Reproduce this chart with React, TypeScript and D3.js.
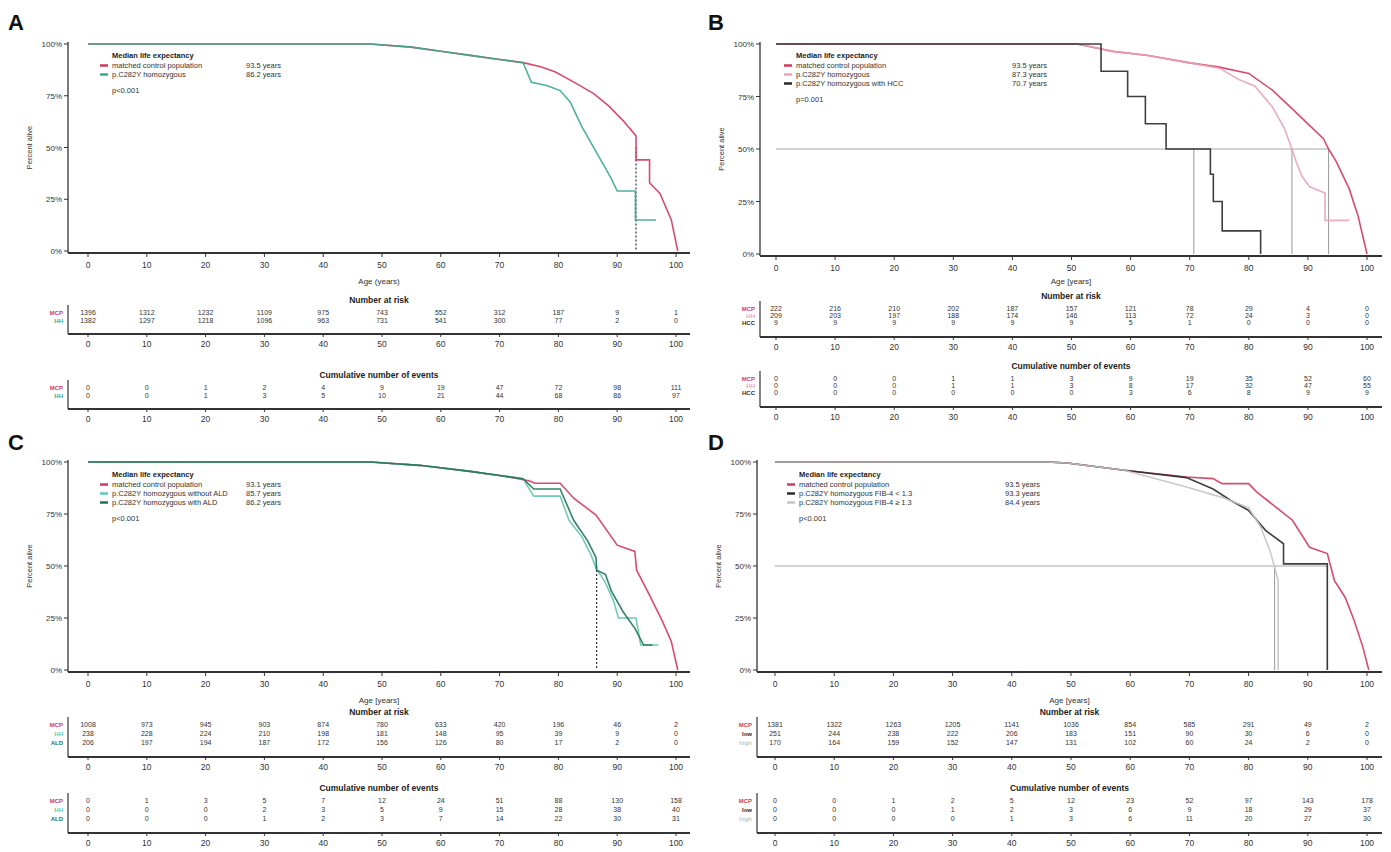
import React from "react";
import * as d3 from "d3";

type Pt = [number, number];

// ---------- shared ticks ----------
const AGE_TICKS = [0, 10, 20, 30, 40, 50, 60, 70, 80, 90, 100];
const SURV_TICKS = [0, 0.25, 0.5, 0.75, 1];
const SURV_TICK_LABELS = ["0%", "25%", "50%", "75%", "100%"];

// ---------- Panel A ----------
const A_NAMES = ["matched control population", "p.C282Y homozygous"];
const A_MEDIANS = ["93.5 years", "86.2 years"];
const A_ROW_LABELS = ["MCP", "HH"];
const A_CTRL: Pt[] = [[0, 1], [48, 1], [55, 0.985], [60, 0.965], [65, 0.945], [70, 0.925], [74, 0.91], [77, 0.89], [79.5, 0.865], [83, 0.81], [86, 0.76], [88.6, 0.7], [91, 0.63], [93.2, 0.556], [93.2, 0.44], [95.5, 0.44], [95.5, 0.33], [97.3, 0.277], [99.2, 0.15], [100.3, 0]];
const A_HOM: Pt[] = [[0, 1], [48, 1], [55, 0.985], [60, 0.965], [65, 0.945], [70, 0.925], [74, 0.91], [75.4, 0.815], [78, 0.8], [80.3, 0.775], [82, 0.72], [84, 0.6], [87, 0.45], [89, 0.35], [90, 0.29], [93.1, 0.29], [93.1, 0.15], [96.6, 0.15]];
const A_MEDIAN_AGES = [93.2];
const A_AT_RISK = [[1396, 1312, 1232, 1109, 975, 743, 552, 312, 187, 9, 1], [1382, 1297, 1218, 1096, 963, 731, 541, 300, 77, 2, 0]];
const A_EVENTS = [[0, 0, 1, 2, 4, 9, 19, 47, 72, 98, 111], [0, 0, 1, 3, 5, 10, 21, 44, 68, 86, 97]];
const A_P = "p<0.001";

// ---------- Panel B ----------
const B_NAMES = ["matched control population", "p.C282Y homozygous", "p.C282Y homozygous with HCC"];
const B_MEDIANS = ["93.5 years", "87.3 years", "70.7 years"];
const B_ROW_LABELS = ["MCP", "HH", "HCC"];
const B_CTRL: Pt[] = [[0, 1], [51, 1], [57, 0.965], [63, 0.945], [70, 0.91], [75, 0.89], [80, 0.86], [84, 0.78], [87.4, 0.69], [90, 0.62], [92.6, 0.55], [93.5, 0.5], [94.8, 0.44], [97, 0.31], [98.5, 0.18], [100, 0]];
const B_HOM: Pt[] = [[0, 1], [51, 1], [57, 0.965], [63, 0.945], [70, 0.91], [75, 0.885], [78.4, 0.83], [81, 0.8], [84, 0.7], [86, 0.6], [87.3, 0.5], [88, 0.44], [89, 0.37], [90.3, 0.32], [92.9, 0.29], [92.9, 0.16], [97, 0.16]];
const B_HCC: Pt[] = [[0, 1], [55, 1], [55, 0.87], [59.5, 0.87], [59.5, 0.75], [62.5, 0.75], [62.5, 0.62], [66, 0.62], [66, 0.5], [73.5, 0.5], [73.5, 0.38], [74, 0.38], [74, 0.25], [75.5, 0.25], [75.5, 0.11], [82, 0.11], [82, 0]];
const B_MEDIAN_AGES = [70.7, 87.3, 93.5];
const B_AT_RISK = [[222, 216, 210, 202, 187, 157, 121, 78, 29, 4, 0], [209, 203, 197, 188, 174, 146, 113, 72, 24, 3, 0], [9, 9, 9, 9, 9, 9, 5, 1, 0, 0, 0]];
const B_EVENTS = [[0, 0, 0, 1, 1, 3, 9, 19, 35, 52, 60], [0, 0, 0, 1, 1, 3, 8, 17, 32, 47, 55], [0, 0, 0, 0, 0, 0, 3, 6, 8, 9, 9]];
const B_P = "p=0.001";

// ---------- Panel C ----------
const C_NAMES = ["matched control population", "p.C282Y homozygous without ALD", "p.C282Y homozygous with ALD"];
const C_MEDIANS = ["93.1 years", "85.7 years", "86.2 years"];
const C_ROW_LABELS = ["MCP", "HH", "ALD"];
const C_CTRL: Pt[] = [[0, 1], [48, 1], [56.4, 0.984], [65, 0.955], [70, 0.935], [75, 0.91], [76, 0.898], [80.3, 0.898], [82.6, 0.826], [86.4, 0.745], [90, 0.6], [93, 0.57], [93.3, 0.48], [95.5, 0.36], [97.7, 0.234], [99.2, 0.137], [100.3, 0]];
const C_NOALD: Pt[] = [[0, 1], [48, 1], [56.4, 0.984], [65, 0.955], [70, 0.935], [74, 0.92], [75.8, 0.836], [80.3, 0.836], [81.8, 0.72], [84, 0.64], [85.6, 0.55], [86.4, 0.49], [88, 0.42], [89.4, 0.33], [90.2, 0.25], [93.2, 0.25], [94, 0.12], [97, 0.12]];
const C_ALD: Pt[] = [[0, 1], [48, 1], [56.4, 0.984], [65, 0.955], [70, 0.935], [74, 0.92], [75.8, 0.87], [80.3, 0.87], [82.6, 0.72], [85, 0.62], [86.4, 0.54], [86.5, 0.48], [88, 0.46], [89, 0.38], [91, 0.28], [93, 0.2], [94.5, 0.12], [96, 0.12]];
const C_MEDIAN_AGES = [86.5];
const C_AT_RISK = [[1008, 973, 945, 903, 874, 780, 633, 420, 196, 46, 2], [238, 228, 224, 210, 198, 181, 148, 95, 39, 9, 0], [206, 197, 194, 187, 172, 156, 126, 80, 17, 2, 0]];
const C_EVENTS = [[0, 1, 3, 5, 7, 12, 24, 51, 88, 130, 158], [0, 0, 0, 2, 3, 5, 9, 15, 28, 38, 40], [0, 0, 0, 1, 2, 3, 7, 14, 22, 30, 31]];
const C_P = "p<0.001";

// ---------- Panel D ----------
const D_NAMES = ["matched control population", "p.C282Y homozygous FIB-4 < 1.3", "p.C282Y homozygous FIB-4 ≥ 1.3"];
const D_MEDIANS = ["93.5 years", "93.3 years", "84.4 years"];
const D_ROW_LABELS = ["MCP", "low", "high"];
const D_CTRL: Pt[] = [[0, 1], [46, 1], [49.4, 0.995], [59, 0.96], [69.5, 0.928], [74, 0.92], [75.5, 0.896], [80, 0.896], [81.4, 0.855], [87.4, 0.72], [90.3, 0.59], [93.3, 0.56], [94.5, 0.43], [96.3, 0.35], [97.8, 0.24], [99.3, 0.11], [100.3, 0]];
const D_LOW: Pt[] = [[0, 1], [46, 1], [49.4, 0.995], [59, 0.96], [69.5, 0.925], [74, 0.87], [77, 0.815], [80, 0.767], [82.9, 0.67], [85.9, 0.607], [85.9, 0.51], [93.3, 0.51], [93.3, 0]];
const D_HIGH: Pt[] = [[0, 1], [46, 1], [49.4, 0.995], [59, 0.96], [69.5, 0.88], [75.5, 0.83], [80, 0.78], [82, 0.69], [83.6, 0.575], [84.4, 0.494], [85, 0.43], [85, 0]];
const D_MEDIAN_AGES = [84.4, 93.3];
const D_AT_RISK = [[1381, 1322, 1263, 1205, 1141, 1036, 854, 585, 291, 49, 2], [251, 244, 238, 222, 206, 183, 151, 90, 30, 6, 0], [170, 164, 159, 152, 147, 131, 102, 60, 24, 2, 0]];
const D_EVENTS = [[0, 0, 1, 2, 5, 12, 23, 52, 97, 143, 178], [0, 0, 0, 1, 2, 3, 6, 9, 18, 29, 37], [0, 0, 0, 0, 1, 3, 6, 11, 20, 27, 30]];
const D_P = "p<0.001";

const FONT = "'Liberation Sans', Arial, sans-serif";
const RED = "#d23a5c";
const TEAL = "#3aa98e";
const TEAL_L = "#63c7ad";
const GREEN_D = "#1e7459";
const PINK = "#eba2b6";
const BLACK = "#2a2a2a";
const GREY = "#c4c4c4";

interface Series { data: Pt[]; color: string; }
interface Geo {
  letter: string; lx: number; ly: number;
  left: number; right: number; x0: number; x100: number;
  top: number; bottom: number; axisY: number;
  xLabel: string; xLabelY: number;
  legX: number; legY: number; valX: number;
  risk: { title: number; rows: number[]; axis: number };
  events: { title: number; rows: number[]; axis: number };
}

interface PanelProps {
  geo: Geo; series: Series[]; names: string[]; medians: string[]; rowLabels: string[];
  atRisk: number[][]; events: number[][]; p: string;
  medianAges: number[]; medianStyle: "dotted" | "guide";
}

function Table({ geo, x, heading, rows, axis, values, labels, colors }: any) {
  return (
    <g>
      <text x={(geo.left + geo.right) / 2} y={rows[0] - 12} textAnchor="middle" fontSize={8.5} fontWeight="bold" fill="#222">{heading}</text>
      <line x1={geo.left} x2={geo.left} y1={rows[0] - 10} y2={axis} stroke="#333" strokeWidth={1.2} />
      <line x1={geo.left} x2={geo.right} y1={axis} y2={axis} stroke="#333" strokeWidth={2} />
      {AGE_TICKS.map((t) => (
        <g key={t}>
          <line x1={x(t)} x2={x(t)} y1={axis} y2={axis + 3} stroke="#333" />
          <text x={x(t)} y={axis + 13} textAnchor="middle" fontSize={8.5} fill="#333">{t}</text>
        </g>
      ))}
      {values.map((row: number[], i: number) => (
        <g key={i}>
          <text x={geo.left - 5} y={rows[i]} textAnchor="end" fontSize={6} fontWeight="bold" fill={colors[i]}>{labels[i]}</text>
          {row.map((v, j) => (
            <text key={j} x={x(AGE_TICKS[j])} y={rows[i]} textAnchor="middle" fontSize={7} fill="#333">{v}</text>
          ))}
        </g>
      ))}
    </g>
  );
}

function Panel({ geo, series, names, medians, rowLabels, atRisk, events, p, medianAges, medianStyle }: PanelProps) {
  const x = d3.scaleLinear().domain([0, 100]).range([geo.x0, geo.x100]);
  const y = d3.scaleLinear().domain([0, 1]).range([geo.bottom, geo.top]);
  const line = d3.line<Pt>().x((d) => x(d[0])).y((d) => y(d[1]));
  const colors = series.map((s) => s.color);
  const midY = (geo.top + geo.bottom) / 2;
  const maxMed = d3.max(medianAges) ?? 0;
  return (
    <g fontFamily={FONT}>
      <text x={geo.lx} y={geo.ly} fontSize={22} fontWeight="bold" fill="#111">{geo.letter}</text>
      {/* y axis */}
      <line x1={geo.left} x2={geo.left} y1={geo.top - 2} y2={geo.axisY} stroke="#333" strokeWidth={1.3} />
      {SURV_TICKS.map((t, i) => (
        <g key={t}>
          <line x1={geo.left - 4} x2={geo.left} y1={y(t)} y2={y(t)} stroke="#333" />
          <text x={geo.left - 6} y={y(t) + 3} textAnchor="end" fontSize={8} fill="#333">{SURV_TICK_LABELS[i]}</text>
        </g>
      ))}
      <text transform={`translate(${geo.left - 36},${midY}) rotate(-90)`} textAnchor="middle" fontSize={7.5} fill="#333">Percent alive</text>
      {/* x axis */}
      <line x1={geo.left} x2={geo.right} y1={geo.axisY} y2={geo.axisY} stroke="#333" strokeWidth={2} />
      {AGE_TICKS.map((t) => (
        <g key={t}>
          <line x1={x(t)} x2={x(t)} y1={geo.axisY} y2={geo.axisY + 4} stroke="#333" />
          <text x={x(t)} y={geo.axisY + 15} textAnchor="middle" fontSize={8.5} fill="#333">{t}</text>
        </g>
      ))}
      <text x={(geo.left + geo.right) / 2} y={geo.xLabelY} textAnchor="middle" fontSize={8} fill="#333">{geo.xLabel}</text>
      {/* median guides */}
      {medianStyle === "guide" && (
        <line x1={x(0)} x2={x(maxMed)} y1={y(0.5)} y2={y(0.5)} stroke="#a8a8a8" strokeWidth={1} />
      )}
      {medianAges.map((m, i) => (
        medianStyle === "guide" ? (
          <line key={i} x1={x(m)} x2={x(m)} y1={y(0.5)} y2={y(0)} stroke="#999" strokeWidth={1} />
        ) : (
          <line key={i} x1={x(m)} x2={x(m)} y1={y(0.5)} y2={y(0)} stroke="#333" strokeWidth={1.2} strokeDasharray="2,2" />
        )
      ))}
      {/* curves */}
      {series.map((s, i) => (
        <path key={i} d={line(s.data) ?? ""} fill="none" stroke={s.color} strokeWidth={1.6} strokeOpacity={0.9} />
      ))}
      {/* legend */}
      <text x={geo.legX + 12} y={geo.legY} fontSize={7.5} fontWeight="bold" fill="#222">Median life expectancy</text>
      {names.map((n, i) => (
        <g key={i}>
          <line x1={geo.legX} x2={geo.legX + 8} y1={geo.legY + 10 + i * 9 - 2.5} y2={geo.legY + 10 + i * 9 - 2.5} stroke={colors[i]} strokeWidth={2.5} />
          <text x={geo.legX + 12} y={geo.legY + 10 + i * 9} fontSize={7.5} fill="#333">{n}</text>
          <text x={geo.valX} y={geo.legY + 10 + i * 9} fontSize={7.5} fill="#333">{medians[i]}</text>
        </g>
      ))}
      <text x={geo.legX + 12} y={geo.legY + 13 + names.length * 9 + 4} fontSize={7.5} fill="#333">{p}</text>
      <Table geo={geo} x={x} heading="Number at risk" rows={geo.risk.rows} axis={geo.risk.axis} values={atRisk} labels={rowLabels} colors={colors} />
      <Table geo={geo} x={x} heading="Cumulative number of events" rows={geo.events.rows} axis={geo.events.axis} values={events} labels={rowLabels} colors={colors} />
    </g>
  );
}

const GEO_A: Geo = {
  letter: "A", lx: 8, ly: 30, left: 68, right: 690, x0: 88, x100: 676, top: 44, bottom: 251, axisY: 253,
  xLabel: "Age (years)", xLabelY: 284, legX: 100, legY: 58, valX: 246,
  risk: { title: 302, rows: [315, 323], axis: 334 }, events: { title: 378, rows: [390, 398], axis: 409 },
};
const GEO_B: Geo = {
  letter: "B", lx: 708, ly: 30, left: 760, right: 1382, x0: 776, x100: 1367, top: 44, bottom: 254, axisY: 256,
  xLabel: "Age [years]", xLabelY: 284, legX: 784, legY: 58, valX: 1012,
  risk: { title: 298, rows: [311, 318, 325], axis: 337 }, events: { title: 369, rows: [381, 388, 395], axis: 407 },
};
const GEO_C: Geo = {
  letter: "C", lx: 8, ly: 450, left: 68, right: 690, x0: 88, x100: 676, top: 462, bottom: 670, axisY: 672,
  xLabel: "Age [years]", xLabelY: 703, legX: 100, legY: 477, valX: 246,
  risk: { title: 714, rows: [727, 736, 745], axis: 757 }, events: { title: 790, rows: [803, 812, 821], axis: 833 },
};
const GEO_D: Geo = {
  letter: "D", lx: 708, ly: 450, left: 757, right: 1382, x0: 775, x100: 1367, top: 462, bottom: 670, axisY: 672,
  xLabel: "Age [years]", xLabelY: 703, legX: 787, legY: 477, valX: 1005,
  risk: { title: 714, rows: [727, 736, 745], axis: 757 }, events: { title: 790, rows: [803, 812, 821], axis: 833 },
};

export default function App() {
  return (
    <svg width={1391} height={852} style={{ position: "absolute", left: 0, top: 0, background: "#fff" }}>
      <rect width={1391} height={852} fill="#fff" />
      <Panel geo={GEO_A} series={[{ data: A_CTRL, color: RED }, { data: A_HOM, color: TEAL }]} names={A_NAMES} medians={A_MEDIANS} rowLabels={A_ROW_LABELS} atRisk={A_AT_RISK} events={A_EVENTS} p={A_P} medianAges={A_MEDIAN_AGES} medianStyle="dotted" />
      <Panel geo={GEO_B} series={[{ data: B_CTRL, color: RED }, { data: B_HOM, color: PINK }, { data: B_HCC, color: BLACK }]} names={B_NAMES} medians={B_MEDIANS} rowLabels={B_ROW_LABELS} atRisk={B_AT_RISK} events={B_EVENTS} p={B_P} medianAges={B_MEDIAN_AGES} medianStyle="guide" />
      <Panel geo={GEO_C} series={[{ data: C_CTRL, color: RED }, { data: C_NOALD, color: TEAL_L }, { data: C_ALD, color: GREEN_D }]} names={C_NAMES} medians={C_MEDIANS} rowLabels={C_ROW_LABELS} atRisk={C_AT_RISK} events={C_EVENTS} p={C_P} medianAges={C_MEDIAN_AGES} medianStyle="dotted" />
      <Panel geo={GEO_D} series={[{ data: D_CTRL, color: RED }, { data: D_LOW, color: BLACK }, { data: D_HIGH, color: GREY }]} names={D_NAMES} medians={D_MEDIANS} rowLabels={D_ROW_LABELS} atRisk={D_AT_RISK} events={D_EVENTS} p={D_P} medianAges={D_MEDIAN_AGES} medianStyle="guide" />
    </svg>
  );
}
